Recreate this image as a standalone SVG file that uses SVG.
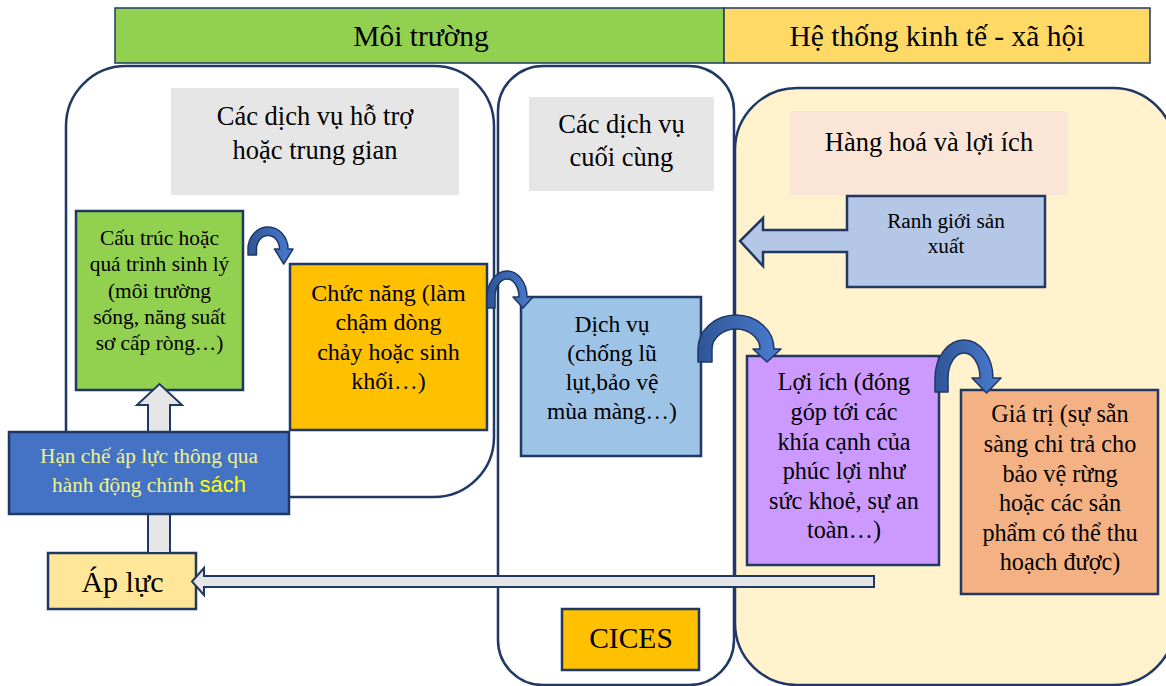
<svg xmlns="http://www.w3.org/2000/svg" width="1166" height="686" viewBox="0 0 1166 686">
  <defs>
    <linearGradient id="curveFill" x1="0" y1="0" x2="1" y2="0">
      <stop offset="0" stop-color="#2F5597"/>
      <stop offset="1" stop-color="#4A7CD0"/>
    </linearGradient>
    <style>
      .t { font-family: "Liberation Serif", "Times New Roman", serif; fill: #000; text-anchor: middle; }
      .box { stroke: #1F3864; stroke-width: 2.5; }
      .zone { stroke: #1F3864; stroke-width: 2.5; }
      .band { stroke: #1F3864; stroke-width: 1.5; }
      .curve { fill: url(#curveFill); stroke: #1F3864; stroke-width: 1.5; stroke-linejoin: round; }
      .block { fill: #E7E6E6; stroke: #1F3864; stroke-width: 2; stroke-linejoin: miter; }
    </style>
  </defs>
  <rect width="1166" height="686" fill="#FFFFFF"/>

  <!-- zone containers -->
  <g id="zone-supporting">
    <rect class="zone" x="66" y="66" width="428" height="431" rx="60" ry="60" fill="#FFFFFF"/>
  </g>
  <g id="zone-final">
    <rect class="zone" x="498" y="66" width="236" height="619" rx="45" ry="45" fill="#FFFFFF"/>
  </g>
  <g id="zone-goods">
    <rect class="zone" x="735" y="88" width="440" height="597" rx="62" ry="62" fill="#FFF2CC"/>
  </g>

  <!-- header bands -->
  <g id="header-environment">
    <rect class="band" x="115" y="8" width="609" height="55" fill="#92D050"/>
    <text class="t" x="421" y="46" font-size="29.5">Môi trường</text>
  </g>
  <g id="header-socioeconomic">
    <rect class="band" x="724" y="8" width="426" height="55" fill="#FFD966"/>
    <text class="t" x="937" y="46" font-size="29.5">Hệ thống kinh tế - xã hội</text>
  </g>

  <!-- zone titles -->
  <g id="title-supporting">
    <rect x="171" y="88" width="288" height="107" fill="#E7E6E6"/>
    <text class="t" x="315" y="125" font-size="26.5">Các dịch vụ hỗ trợ</text>
    <text class="t" x="315" y="159" font-size="26.5">hoặc trung gian</text>
  </g>
  <g id="title-final">
    <rect x="529" y="97" width="185" height="94" fill="#E7E6E6"/>
    <text class="t" x="621.5" y="133" font-size="26.5">Các dịch vụ</text>
    <text class="t" x="621.5" y="166" font-size="26.5">cuối cùng</text>
  </g>
  <g id="title-goods">
    <rect x="790" y="111" width="278" height="84" fill="#FBE5D6"/>
    <text class="t" x="929" y="151" font-size="26.5">Hàng hoá và lợi ích</text>
  </g>

  <!-- production boundary (left-pointing block arrow) -->
  <g id="production-boundary">
    <path class="box" d="M1045,196 L1045,287 L847,287 L847,252 L763,252 L763,266 L740,241 L763,218 L763,230 L847,230 L847,196 Z" fill="#B4C7E7"/>
    <text class="t" x="946" y="228" font-size="21.3">Ranh giới sản</text>
    <text class="t" x="946" y="253" font-size="21.3">xuất</text>
  </g>

  <!-- process nodes -->
  <g id="structure">
    <rect class="box" x="76" y="211" width="167" height="179" fill="#92D050"/>
    <text class="t" x="159.5" y="245" font-size="21.4">Cấu trúc hoặc</text>
    <text class="t" x="159.5" y="271" font-size="21.4">quá trình sinh lý</text>
    <text class="t" x="159.5" y="298" font-size="21.4">(môi trường</text>
    <text class="t" x="159.5" y="324" font-size="21.4">sống, năng suất</text>
    <text class="t" x="159.5" y="350" font-size="21.4">sơ cấp ròng…)</text>
  </g>
  <g id="function">
    <rect class="box" x="290" y="264" width="197" height="166" fill="#FFC000"/>
    <text class="t" x="388.5" y="301" font-size="24">Chức năng (làm</text>
    <text class="t" x="388.5" y="330" font-size="24">chậm dòng</text>
    <text class="t" x="388.5" y="360" font-size="24">chảy hoặc sinh</text>
    <text class="t" x="388.5" y="389" font-size="24">khối…)</text>
  </g>
  <g id="service">
    <rect class="box" x="521" y="297" width="180" height="159" fill="#9DC3E6"/>
    <text class="t" x="612" y="332" font-size="23.5">Dịch vụ</text>
    <text class="t" x="612" y="361" font-size="23.5">(chống lũ</text>
    <text class="t" x="612" y="390" font-size="23.5">lụt,bảo vệ</text>
    <text class="t" x="612" y="419" font-size="23.5">mùa màng…)</text>
  </g>
  <g id="benefit">
    <rect class="box" x="747" y="356" width="192" height="209" fill="#CC99FF"/>
    <text class="t" x="844" y="390" font-size="24.2">Lợi ích (đóng</text>
    <text class="t" x="844" y="420" font-size="24.2">góp tới các</text>
    <text class="t" x="844" y="450" font-size="24.2">khía cạnh của</text>
    <text class="t" x="844" y="479" font-size="24.2">phúc lợi như</text>
    <text class="t" x="844" y="509" font-size="24.2">sức khoẻ, sự an</text>
    <text class="t" x="844" y="538" font-size="24.2">toàn…)</text>
  </g>
  <g id="value">
    <rect class="box" x="961" y="390" width="197" height="204" fill="#F4B183"/>
    <text class="t" x="1060" y="422" font-size="24.2">Giá trị (sự sẵn</text>
    <text class="t" x="1060" y="452" font-size="24.2">sàng chi trả cho</text>
    <text class="t" x="1060" y="482" font-size="24.2">bảo vệ rừng</text>
    <text class="t" x="1060" y="511" font-size="24.2">hoặc các sản</text>
    <text class="t" x="1060" y="541" font-size="24.2">phẩm có thể thu</text>
    <text class="t" x="1060" y="570" font-size="24.2">hoạch được)</text>
  </g>
  <g id="pressure">
    <rect class="box" x="48" y="553" width="148" height="56" fill="#FFE699"/>
    <text class="t" x="122.5" y="592" font-size="30">Áp lực</text>
  </g>
  <g id="cices">
    <rect class="box" x="562" y="609" width="137" height="61" fill="#FFC000"/>
    <text class="t" x="631" y="648" font-size="29.5">CICES</text>
  </g>

  <!-- connectors -->
  <g id="connectors">
    <!-- pressure up to structure -->
    <path class="block" d="M148,553 L148,405 L137,405 L159.5,384 L182,405 L170,405 L170,553 Z"/>
    <!-- feedback from benefits back to pressure -->
    <path class="block" d="M874,576 L204,576 L204,568 L192,581.5 L204,595 L204,587 L874,587 Z"/>
    <!-- curved flow arrows along the cascade -->
    <path class="curve" d="M248,255 L248,249 A20,22 0 0 1 288,249 L293,249 L283.75,264 L274.5,249 L279.5,249 A11.5,13.5 0 0 0 256.5,249 L256.5,255 Z"/>
    <path class="curve" d="M487,308 L487,297 A20,26 0 0 1 527,297 L533,297 L523,308 L513,297 L519,297 A12,18 0 0 0 495,297 L495,308 Z"/>
    <path class="curve" d="M698,362 L698,349 A38,34 0 0 1 774,349 L781,349 L767,362 L753,349 L760,349 A24,20 0 0 0 712,349 L712,362 Z"/>
    <path class="curve" d="M935,392 L935,378 A29,38 0 0 1 993,378 L1001,378 L986.5,393 L972,378 L980,378 A16,25 0 0 0 948,378 L948,392 Z"/>
  </g>

  <!-- policy response box sits over the upward arrow -->
  <g id="policy">
    <rect class="box" x="9" y="432" width="280" height="82" fill="#4472C4"/>
    <text class="t" x="149" y="463" font-size="21.3" style="fill:#F2F28C">Hạn chế áp lực thông qua</text>
    <text class="t" x="149" y="492" font-size="21.3" style="fill:#F2F28C">hành động chính <tspan font-family="'Liberation Sans', Arial, sans-serif" font-size="22" style="fill:#FFFF00">sách</tspan></text>
  </g>
</svg>
